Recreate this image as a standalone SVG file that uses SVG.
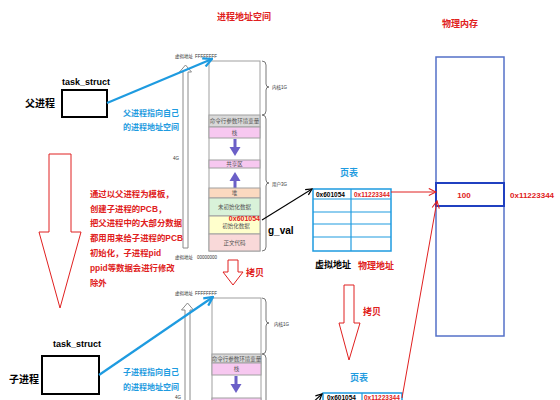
<svg xmlns="http://www.w3.org/2000/svg" width="560" height="400" viewBox="0 0 560 400">
<defs>
<marker id="ab" viewBox="0 0 10 10" refX="9" refY="5" markerWidth="5" markerHeight="5" orient="auto" markerUnits="strokeWidth"><path d="M1,1 L9,5 L1,9" fill="none" stroke="#1e9be0" stroke-width="2"/></marker>
<marker id="ak" viewBox="0 0 10 10" refX="9" refY="5" markerWidth="7" markerHeight="7" orient="auto" markerUnits="strokeWidth"><path d="M1,1 L9,5 L1,9" fill="none" stroke="#000" stroke-width="1.6"/></marker>
<marker id="ar" viewBox="0 0 10 10" refX="9" refY="5" markerWidth="9" markerHeight="9" orient="auto" markerUnits="strokeWidth"><path d="M1,1 L9,5 L1,9" fill="none" stroke="#e02020" stroke-width="1.2"/></marker>
</defs>
<style>
text{font-family:"Liberation Sans","Noto Sans CJK SC",sans-serif}
.b{font-weight:bold}
.red{fill:#e02020}
.blue{fill:#1e9be0}
.tiny{font-size:4.5px;fill:#333}
.seg{font-size:5.5px;fill:#555;text-anchor:middle}
.hollow{fill:#fff;stroke:#e02020;stroke-width:1}
.vbar{fill:#fff;stroke:#8a8a8a;stroke-width:1}
.col{stroke:#a0a0a0;stroke-width:1}
.brace{fill:none;stroke:#555;stroke-width:0.8}
.pt{fill:#fff;stroke:#1e9be0;stroke-width:1.5}
.ptl{stroke:#1e9be0;stroke-width:1.2}
.marr{fill:#6b5fc7}
.note{font-size:8.4px;font-weight:bold;fill:#e02020}
.bt{font-size:8px;font-weight:bold;fill:#1e9be0}
</style>

<!-- titles -->
<text class="red b" x="244" y="20" font-size="9" text-anchor="middle">进程地址空间</text>
<text class="red b" x="460" y="27" font-size="9" text-anchor="middle">物理内存</text>

<!-- parent -->
<g id="parent">
<text class="b" x="86" y="85" font-size="9" text-anchor="middle">task_struct</text>
<text class="b" x="25" y="107" font-size="10">父进程</text>
<rect x="62" y="90" width="45" height="27" fill="#fff" stroke="#000" stroke-width="2"/>
<text class="bt" x="123" y="116">父进程指向自己</text>
<text class="bt" x="123" y="130">的进程地址空间</text>
</g>

<!-- top address space -->
<g id="addr-space-top">
<text class="tiny" x="175" y="58">虚拟地址</text>
<text class="tiny" x="195" y="58">FFFFFFFF</text>
<polygon class="vbar" points="183,248 183,72 179.5,72 185.5,65 191.5,72 188,72 188,248"/>
<text class="tiny" x="173" y="160">4G</text>
<text class="tiny" x="175" y="259">虚拟地址</text>
<text class="tiny" x="197" y="259">00000000</text>
<rect x="209" y="61" width="51" height="190" fill="#fff" class="col"/>
<rect x="209" y="115" width="51" height="12" fill="#d9d9d9" class="col"/>
<text class="seg" x="234.5" y="123">命令行参数环境变量</text>
<rect x="209" y="127" width="51" height="11" fill="#f7c8f0" class="col"/>
<text class="seg" x="234.5" y="134.5">栈</text>
<rect x="233.5" y="139" width="3" height="9" class="marr"/>
<polygon class="marr" points="229.5,147 240.5,147 235,156"/>
<rect x="209" y="160" width="51" height="8" fill="#f7c8f0" class="col"/>
<text class="seg" x="234.5" y="166">共享区</text>
<rect x="233.5" y="180" width="3" height="8" class="marr"/>
<polygon class="marr" points="229.5,181 240.5,181 235,172"/>
<rect x="209" y="188" width="51" height="10" fill="#fbd9c0" class="col"/>
<text class="seg" x="234.5" y="195">堆</text>
<rect x="209" y="198" width="51" height="18" fill="#d9f2d9" class="col"/>
<text class="seg" x="234.5" y="209">未初始化数据</text>
<rect x="209" y="216" width="51" height="18" fill="#ffffcc" class="col"/>
<text class="seg" x="236" y="228">初始化数据</text>
<rect x="209" y="234" width="51" height="17" fill="#f9d9d9" class="col"/>
<text class="seg" x="234.5" y="245">正文代码</text>
<text class="red b" x="260" y="221" font-size="7" text-anchor="end">0x601054</text>
<path class="brace" d="M262,61 Q266,61 266,65 L266,84 Q266,87 269,87 Q266,87 266,90 L266,111 Q266,115 262,115"/>
<text class="tiny" x="272" y="89">内核1G</text>
<path class="brace" d="M262,115 Q266,115 266,119 L266,180 Q266,183 269,183 Q266,183 266,186 L266,247 Q266,251 262,251"/>
<text class="tiny" x="272" y="186">用户3G</text>
<text class="b" x="268" y="234" font-size="10">g_val</text>
</g>

<!-- left arrow and explanation -->
<g id="fork-arrow">
<polygon class="hollow" points="49,154 71,154 71,232 81,232 60,308 39,232 49,232"/>
<text class="note" x="90" y="197">通过以父进程为模板，</text>
<text class="note" x="90" y="212">创建子进程的PCB，</text>
<text class="note" x="90" y="226">把父进程中的大部分数据</text>
<text class="note" x="90" y="241">都用用来给子进程的PCB</text>
<text class="note" x="90" y="256">初始化，子进程pid</text>
<text class="note" x="90" y="271">ppid等数据会进行修改</text>
<text class="note" x="90" y="286">除外</text>
</g>

<!-- copy arrows -->
<g id="copy-top">
<polygon class="hollow" points="228,260 238,260 238,272 243,272 233,285 223,272 228,272"/>
<text class="red b" x="246" y="276" font-size="9">拷贝</text>
</g>
<g id="copy-bottom">
<polygon class="hollow" points="344,285 354,285 354,323 360,323 349,360 339,323 344,323"/>
<text class="red b" x="363" y="315" font-size="9">拷贝</text>
</g>

<!-- page table top -->
<g id="page-table-top">
<text class="blue b" x="349" y="176" font-size="9" text-anchor="middle">页表</text>
<rect class="pt" x="313" y="189" width="78" height="62"/>
<line class="ptl" x1="351" y1="189" x2="351" y2="251"/>
<line class="ptl" x1="313" y1="199" x2="391" y2="199"/>
<line class="ptl" x1="313" y1="212" x2="391" y2="212"/>
<line class="ptl" x1="313" y1="224" x2="391" y2="224"/>
<line class="ptl" x1="313" y1="237" x2="391" y2="237"/>
<text class="b" x="316" y="197" font-size="6.5">0x601054</text>
<text class="red b" x="354" y="197" font-size="6.5">0x11223344</text>
<text class="b" x="315" y="268" font-size="9">虚拟地址</text>
<text class="red b" x="358" y="269" font-size="9">物理地址</text>
</g>

<!-- physical memory -->
<g id="phys-mem">
<rect x="436" y="57" width="68" height="279" fill="#fff" stroke="#5470c8" stroke-width="1.5"/>
<rect x="436" y="183" width="68" height="23" fill="#fff" stroke="#2040c0" stroke-width="2"/>
<text class="red b" x="464" y="198" font-size="8" text-anchor="middle">100</text>
<text class="red b" x="510" y="198" font-size="8">0x11223344</text>
</g>

<!-- child -->
<g id="child">
<text class="b" x="77" y="347" font-size="9" text-anchor="middle">task_struct</text>
<text class="b" x="9" y="383" font-size="10">子进程</text>
<rect x="42" y="356" width="57" height="38" fill="#fff" stroke="#000" stroke-width="2"/>
<text class="bt" x="123" y="375">子进程指向自己</text>
<text class="bt" x="123" y="390">的进程地址空间</text>
</g>

<!-- bottom address space -->
<g id="addr-space-bottom">
<text class="tiny" x="175" y="295">虚拟地址</text>
<text class="tiny" x="195" y="295">FFFFFFFF</text>
<polygon class="vbar" points="185,402 185,310 181.5,310 187.5,303 193.5,310 190,310 190,402"/>
<text class="tiny" x="175" y="399">4G</text>
<rect x="212" y="298" width="49" height="110" fill="#fff" class="col"/>
<rect x="212" y="354" width="49" height="9" fill="#d9d9d9" class="col"/>
<text class="seg" x="236.5" y="361">命令行参数环境变量</text>
<rect x="212" y="363" width="49" height="12" fill="#f7c8f0" class="col"/>
<text class="seg" x="236.5" y="371">栈</text>
<rect x="234.5" y="376" width="3" height="9" class="marr"/>
<polygon class="marr" points="230.5,384 241.5,384 236,393"/>
<rect x="212" y="398" width="49" height="8" fill="#f7c8f0" class="col"/>
<path class="brace" d="M262,298 Q266,298 266,302 L266,320 Q266,323 269,323 Q266,323 266,326 L266,350 Q266,354 262,354"/>
<text class="tiny" x="274" y="326">内核1G</text>
<path class="brace" d="M262,354 Q266,354 266,358 L266,402"/>
</g>

<!-- page table bottom -->
<g id="page-table-bottom">
<text class="blue b" x="359" y="381" font-size="9" text-anchor="middle">页表</text>
<rect class="pt" x="323" y="393" width="79" height="20"/>
<line class="ptl" x1="362" y1="393" x2="362" y2="413"/>
<text class="b" x="327" y="400" font-size="6.5">0x601054</text>
<text class="red b" x="364" y="400" font-size="6.5">0x11223344</text>
</g>

<!-- connectors -->
<g id="connectors">
<line x1="107" y1="103" x2="212" y2="59" stroke="#1e9be0" stroke-width="2.2" marker-end="url(#ab)"/>
<line x1="99" y1="375" x2="213" y2="297" stroke="#1e9be0" stroke-width="2.2" marker-end="url(#ab)"/>
<line x1="262" y1="220" x2="312" y2="189" stroke="#000" stroke-width="1.1" marker-end="url(#ak)"/>
<line x1="310" y1="405" x2="322" y2="394" stroke="#000" stroke-width="1.1" marker-end="url(#ak)"/>
<line x1="391" y1="192" x2="436" y2="192" stroke="#e02020" stroke-width="1" marker-end="url(#ar)"/>
<line x1="402" y1="398" x2="437" y2="201" stroke="#e02020" stroke-width="1" marker-end="url(#ar)"/>
</g>
</svg>
